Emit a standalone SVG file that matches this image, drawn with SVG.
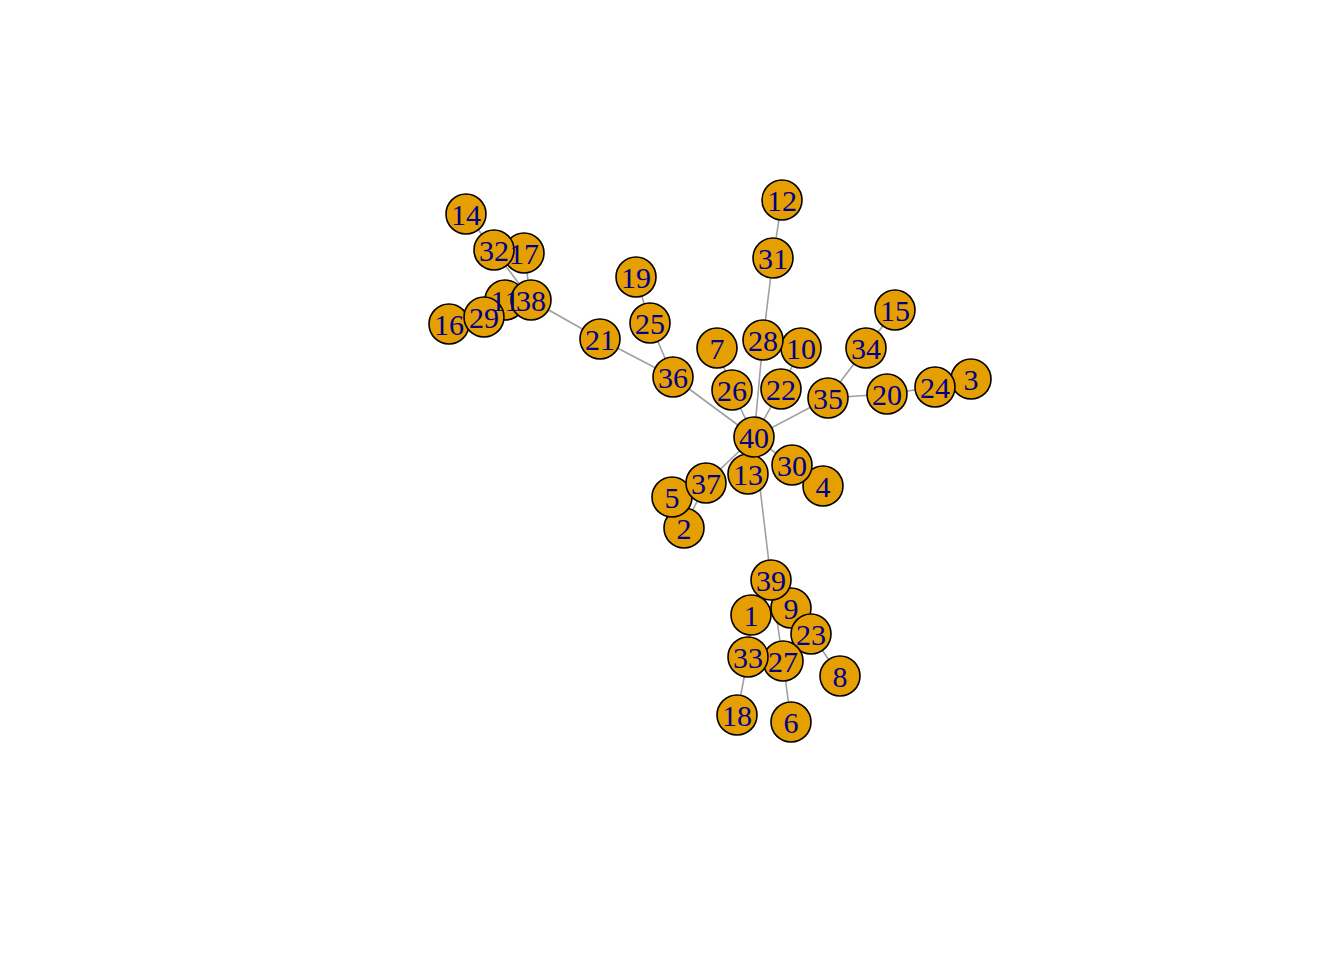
<svg xmlns="http://www.w3.org/2000/svg" width="1344" height="960" viewBox="0 0 1344 960">
<style>
.e{stroke:#a0a0a0;stroke-width:1.6;fill:none}
.n circle{fill:#E69F00;stroke:#000;stroke-width:1.6}
.n text{font-family:"Liberation Serif","Times New Roman",serif;font-size:30px;fill:#00008B;text-anchor:middle}
</style>
<rect width="1344" height="960" fill="#fff"/>
<g id="edges">
<line class="e" x1="466" y1="214" x2="494" y2="250"/>
<line class="e" x1="494" y1="250" x2="531" y2="300"/>
<line class="e" x1="524" y1="253" x2="531" y2="300"/>
<line class="e" x1="531" y1="300" x2="600" y2="339"/>
<line class="e" x1="449" y1="324" x2="484" y2="317"/>
<line class="e" x1="484" y1="317" x2="505" y2="300"/>
<line class="e" x1="505" y1="300" x2="531" y2="300"/>
<line class="e" x1="782" y1="200" x2="773" y2="258"/>
<line class="e" x1="773" y1="258" x2="763" y2="340"/>
<line class="e" x1="636" y1="277" x2="650" y2="323"/>
<line class="e" x1="650" y1="323" x2="673" y2="377"/>
<line class="e" x1="600" y1="339" x2="673" y2="377"/>
<line class="e" x1="673" y1="377" x2="754" y2="437"/>
<line class="e" x1="717" y1="348" x2="732" y2="390"/>
<line class="e" x1="732" y1="390" x2="754" y2="437"/>
<line class="e" x1="763" y1="340" x2="754" y2="437"/>
<line class="e" x1="801" y1="348" x2="781" y2="389"/>
<line class="e" x1="781" y1="389" x2="754" y2="437"/>
<line class="e" x1="828" y1="398" x2="754" y2="437"/>
<line class="e" x1="895" y1="310" x2="866" y2="348"/>
<line class="e" x1="866" y1="348" x2="828" y2="398"/>
<line class="e" x1="828" y1="398" x2="887" y2="394"/>
<line class="e" x1="887" y1="394" x2="935" y2="387"/>
<line class="e" x1="935" y1="387" x2="971" y2="379"/>
<line class="e" x1="754" y1="437" x2="706" y2="483"/>
<line class="e" x1="706" y1="483" x2="684" y2="528"/>
<line class="e" x1="684" y1="528" x2="672" y2="497"/>
<line class="e" x1="754" y1="437" x2="792" y2="465"/>
<line class="e" x1="792" y1="465" x2="823" y2="486"/>
<line class="e" x1="754" y1="437" x2="748" y2="474"/>
<line class="e" x1="754" y1="437" x2="771" y2="580"/>
<line class="e" x1="771" y1="580" x2="783" y2="661"/>
<line class="e" x1="783" y1="661" x2="791" y2="722"/>
<line class="e" x1="748" y1="657" x2="737" y2="715"/>
<line class="e" x1="811" y1="634" x2="840" y2="676"/>
<line class="e" x1="771" y1="580" x2="791" y2="608"/>
<line class="e" x1="791" y1="608" x2="811" y2="634"/>
<line class="e" x1="771" y1="580" x2="751" y2="615"/>
<line class="e" x1="751" y1="615" x2="748" y2="657"/>
</g>
<g id="n1" class="n"><circle cx="751" cy="615" r="20"/></g>
<g id="n2" class="n"><circle cx="684" cy="528" r="20"/></g>
<g id="n3" class="n"><circle cx="971" cy="379" r="20"/></g>
<g id="n4" class="n"><circle cx="823" cy="486" r="20"/></g>
<g id="n5" class="n"><circle cx="672" cy="497" r="20"/></g>
<g id="n6" class="n"><circle cx="791" cy="722" r="20"/></g>
<g id="n7" class="n"><circle cx="717" cy="348" r="20"/></g>
<g id="n8" class="n"><circle cx="840" cy="676" r="20"/></g>
<g id="n9" class="n"><circle cx="791" cy="608" r="20"/></g>
<g id="n10" class="n"><circle cx="801" cy="348" r="20"/></g>
<g id="n11" class="n"><circle cx="505" cy="300" r="20"/></g>
<g id="n12" class="n"><circle cx="782" cy="200" r="20"/></g>
<g id="n13" class="n"><circle cx="748" cy="474" r="20"/></g>
<g id="n14" class="n"><circle cx="466" cy="214" r="20"/></g>
<g id="n15" class="n"><circle cx="895" cy="310" r="20"/></g>
<g id="n16" class="n"><circle cx="449" cy="324" r="20"/></g>
<g id="n17" class="n"><circle cx="524" cy="253" r="20"/></g>
<g id="n18" class="n"><circle cx="737" cy="715" r="20"/></g>
<g id="n19" class="n"><circle cx="636" cy="277" r="20"/></g>
<g id="n20" class="n"><circle cx="887" cy="394" r="20"/></g>
<g id="n21" class="n"><circle cx="600" cy="339" r="20"/></g>
<g id="n22" class="n"><circle cx="781" cy="389" r="20"/></g>
<g id="n23" class="n"><circle cx="811" cy="634" r="20"/></g>
<g id="n24" class="n"><circle cx="935" cy="387" r="20"/></g>
<g id="n25" class="n"><circle cx="650" cy="323" r="20"/></g>
<g id="n26" class="n"><circle cx="732" cy="390" r="20"/></g>
<g id="n27" class="n"><circle cx="783" cy="661" r="20"/></g>
<g id="n28" class="n"><circle cx="763" cy="340" r="20"/></g>
<g id="n29" class="n"><circle cx="484" cy="317" r="20"/></g>
<g id="n30" class="n"><circle cx="792" cy="465" r="20"/></g>
<g id="n31" class="n"><circle cx="773" cy="258" r="20"/></g>
<g id="n32" class="n"><circle cx="494" cy="250" r="20"/></g>
<g id="n33" class="n"><circle cx="748" cy="657" r="20"/></g>
<g id="n34" class="n"><circle cx="866" cy="348" r="20"/></g>
<g id="n35" class="n"><circle cx="828" cy="398" r="20"/></g>
<g id="n36" class="n"><circle cx="673" cy="377" r="20"/></g>
<g id="n37" class="n"><circle cx="706" cy="483" r="20"/></g>
<g id="n38" class="n"><circle cx="531" cy="300" r="20"/></g>
<g id="n39" class="n"><circle cx="771" cy="580" r="20"/></g>
<g id="n40" class="n"><circle cx="754" cy="437" r="20"/></g>
<g id="labels" class="n">
<text x="751" y="626">1</text>
<text x="684" y="539">2</text>
<text x="971" y="390">3</text>
<text x="823" y="497">4</text>
<text x="672" y="508">5</text>
<text x="791" y="733">6</text>
<text x="717" y="359">7</text>
<text x="840" y="687">8</text>
<text x="791" y="619">9</text>
<text x="801" y="359">10</text>
<text x="505" y="311">11</text>
<text x="782" y="211">12</text>
<text x="748" y="485">13</text>
<text x="466" y="225">14</text>
<text x="895" y="321">15</text>
<text x="449" y="335">16</text>
<text x="524" y="264">17</text>
<text x="737" y="726">18</text>
<text x="636" y="288">19</text>
<text x="887" y="405">20</text>
<text x="600" y="350">21</text>
<text x="781" y="400">22</text>
<text x="811" y="645">23</text>
<text x="935" y="398">24</text>
<text x="650" y="334">25</text>
<text x="732" y="401">26</text>
<text x="783" y="672">27</text>
<text x="763" y="351">28</text>
<text x="484" y="328">29</text>
<text x="792" y="476">30</text>
<text x="773" y="269">31</text>
<text x="494" y="261">32</text>
<text x="748" y="668">33</text>
<text x="866" y="359">34</text>
<text x="828" y="409">35</text>
<text x="673" y="388">36</text>
<text x="706" y="494">37</text>
<text x="531" y="311">38</text>
<text x="771" y="591">39</text>
<text x="754" y="448">40</text>
</g>
</svg>
